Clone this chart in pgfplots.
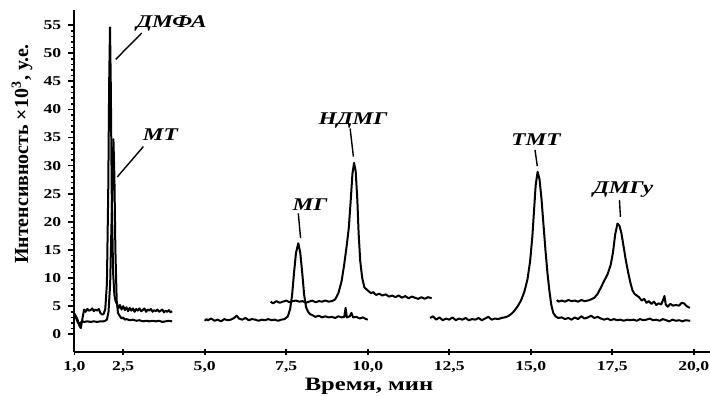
\documentclass[border=0pt]{standalone}
\usepackage{fontspec}
\setmainfont{Liberation Serif}[FakeStretch=1.3]
\newfontfamily\ylabfont{Liberation Serif}
\usepackage{pgfplots}
\pgfplotsset{compat=1.18}
\begin{document}
\begin{tikzpicture}
\begin{axis}[
 name=ax,
 scale only axis,
 width=317.9bp, height=170.9bp,
 xmin=1, xmax=20.5, ymin=-3.1, ymax=57.7,
 axis x line*=bottom, axis y line*=left,
 axis line style={line width=1.1bp, -},
 xtick={1,2.5,5,7.5,10,12.5,15,17.5,20},
 xticklabels={{1,0},{2,5},{5,0},{7,5},{10,0},{12,5},{15,0},{17,5},{20,0}},
 minor x tick num=4,
 ytick={0,5,10,15,20,25,30,35,40,45,50,55},
 minor y tick num=4,
 xtick align=center, ytick align=outside,
 major tick length=3bp, minor tick length=1.8bp,
 tick style={line width=0.8bp, black},
 /pgf/number format/assume math mode=true,
 ticklabel style={font=\fontsize{6.8}{8}\selectfont\bfseries},
 xlabel={Время, мин},
 xlabel style={at={(rel axis cs:0.4636,0)}, yshift=-17.15bp, anchor=center, font=\fontsize{9.5}{11}\selectfont\bfseries},
 ylabel={\ylabfont\bfseries Интенсивность ×10\textsuperscript{3}, у.е.},
 ylabel style={at={(rel axis cs:-0.0823,0.5786)}, anchor=center, font=\fontsize{10}{12}\selectfont},
 cycle list={{black,solid}},
 every axis plot post/.append style={line width=1bp, black, solid, no markers, line join=round},
]
% upper trace, segment 1
\addplot coordinates {(1.00,3.7)(1.05,3.2)(1.10,2.6)(1.15,1.6)(1.20,1.1)(1.25,2.8)(1.30,4.4)(1.35,4.0)(1.40,4.5)(1.45,4.2)(1.50,4.3)(1.55,4.6)(1.60,4.1)(1.65,4.4)(1.70,4.2)(1.75,4.5)(1.80,3.8)(1.85,3.5)(1.90,3.6)(1.95,4.5)(2.00,9)(2.04,25)(2.07,45)(2.095,54.6)(2.12,44)(2.15,24)(2.19,11)(2.23,7)(2.27,5.8)(2.30,5.5)(2.35,4.6)(2.40,5.2)(2.45,4.4)(2.50,5.0)(2.55,4.3)(2.60,4.8)(2.65,4.1)(2.70,4.7)(2.75,4.2)(2.80,4.6)(2.85,4.0)(2.90,4.5)(2.95,4.2)(3.00,4.6)(3.05,4.1)(3.10,4.3)(3.15,4.6)(3.20,4.0)(3.25,4.4)(3.30,4.2)(3.35,4.5)(3.40,4.0)(3.45,4.3)(3.50,4.1)(3.55,4.4)(3.60,4.0)(3.65,4.2)(3.70,4.4)(3.75,3.9)(3.80,4.2)(3.85,4.0)(3.90,4.3)(3.95,3.9)(4.00,4.1)};
% lower trace, segment 1
\addplot coordinates {(1.00,3.4)(1.05,3.0)(1.10,2.2)(1.15,1.8)(1.20,2.1)(1.25,2.3)(1.30,2.2)(1.40,2.3)(1.50,2.2)(1.60,2.3)(1.70,2.2)(1.80,2.3)(1.90,2.3)(1.95,2.4)(2.00,2.6)(2.05,4)(2.10,9)(2.15,22)(2.20,34.7)(2.23,28)(2.26,15)(2.30,6)(2.34,3.8)(2.40,3.2)(2.45,2.8)(2.50,3.0)(2.55,2.6)(2.60,2.7)(2.70,2.5)(2.80,2.6)(2.90,2.4)(3.00,2.5)(3.10,2.3)(3.20,2.4)(3.30,2.3)(3.40,2.4)(3.50,2.3)(3.60,2.4)(3.70,2.2)(3.80,2.3)(3.90,2.4)(4.00,2.3)};
% lower trace, segment 2
\addplot coordinates {(5.00,2.4)(5.05,2.7)(5.10,2.5)(5.20,2.8)(5.30,2.4)(5.40,2.6)(5.50,2.3)(5.60,2.7)(5.70,2.5)(5.80,2.6)(5.90,2.9)(5.98,3.3)(6.05,2.8)(6.15,2.6)(6.25,2.9)(6.35,2.5)(6.45,2.7)(6.55,2.6)(6.65,2.4)(6.75,2.6)(6.85,2.5)(6.95,2.7)(7.05,2.5)(7.15,2.6)(7.25,2.4)(7.35,2.6)(7.45,2.7)(7.55,3.2)(7.62,4.5)(7.68,7)(7.74,11)(7.80,14.5)(7.87,16.2)(7.93,14.5)(7.99,11)(8.05,7)(8.11,4.8)(8.17,4.0)(8.23,3.6)(8.30,3.4)(8.40,3.1)(8.50,3.3)(8.60,3.0)(8.70,3.2)(8.80,3.0)(8.90,3.1)(9.00,2.9)(9.10,3.2)(9.20,3.0)(9.28,3.1)(9.32,4.7)(9.36,3.0)(9.45,3.2)(9.50,3.8)(9.55,3.0)(9.65,3.1)(9.75,2.8)(9.85,3.0)(9.95,2.7)(10.00,2.6)};
% upper trace, segment 2
\addplot coordinates {(7.02,5.8)(7.10,5.5)(7.20,5.9)(7.30,5.6)(7.40,5.8)(7.50,6.0)(7.60,5.7)(7.70,5.9)(7.80,6.0)(7.90,5.8)(8.00,5.9)(8.10,5.6)(8.20,5.8)(8.30,6.0)(8.40,5.7)(8.50,5.9)(8.60,5.8)(8.70,6.0)(8.80,5.8)(8.90,5.9)(9.00,6.2)(9.10,7.3)(9.20,9.5)(9.28,12.5)(9.36,16)(9.42,19)(9.48,24)(9.53,28.5)(9.58,30.5)(9.63,29)(9.68,24)(9.72,18)(9.77,13)(9.83,10)(9.90,8.3)(10.00,7.8)(10.10,7.3)(10.17,7.5)(10.25,7.0)(10.35,7.2)(10.45,6.9)(10.55,7.1)(10.65,6.7)(10.75,6.9)(10.85,6.6)(10.95,6.9)(11.05,6.5)(11.15,6.8)(11.25,6.4)(11.35,6.7)(11.45,6.5)(11.55,6.3)(11.65,6.6)(11.75,6.3)(11.85,6.6)(11.96,6.4)};
% lower trace, segment 3
\addplot coordinates {(11.91,2.9)(12.00,3.2)(12.10,2.6)(12.20,3.0)(12.30,2.5)(12.40,2.8)(12.50,2.6)(12.60,3.0)(12.70,2.5)(12.80,2.8)(12.90,2.6)(13.00,2.9)(13.10,2.5)(13.20,2.7)(13.30,2.6)(13.40,2.9)(13.50,2.5)(13.60,2.8)(13.70,3.1)(13.80,2.6)(13.90,2.8)(14.00,2.7)(14.10,2.9)(14.20,3.0)(14.30,3.2)(14.40,3.6)(14.50,4.2)(14.60,5.0)(14.70,6.0)(14.80,7.5)(14.90,9.8)(14.98,13)(15.05,17.5)(15.10,22)(15.15,26.5)(15.21,28.9)(15.27,27.5)(15.33,24)(15.39,19.5)(15.45,15)(15.51,11)(15.57,7.8)(15.63,5.2)(15.69,3.8)(15.76,3.2)(15.84,2.9)(15.95,3.0)(16.05,2.7)(16.15,2.9)(16.25,2.6)(16.35,3.0)(16.45,2.7)(16.55,3.2)(16.65,2.8)(16.75,3.0)(16.85,3.3)(16.95,2.9)(17.05,3.1)(17.15,2.8)(17.25,2.6)(17.35,2.8)(17.45,2.5)(17.55,2.7)(17.65,2.5)(17.75,2.6)(17.85,2.4)(17.95,2.6)(18.05,2.5)(18.15,2.6)(18.25,2.4)(18.35,2.7)(18.45,2.5)(18.55,2.6)(18.65,2.8)(18.75,2.5)(18.85,2.6)(18.95,2.4)(19.05,2.7)(19.15,2.5)(19.25,2.3)(19.35,2.6)(19.45,2.4)(19.55,2.5)(19.65,2.3)(19.75,2.5)(19.89,2.4)};
% upper trace, segment 3
\addplot coordinates {(15.80,6.1)(15.85,5.8)(15.95,6.0)(16.05,5.8)(16.15,6.1)(16.25,5.9)(16.35,6.0)(16.45,5.8)(16.55,6.1)(16.65,5.9)(16.75,6.0)(16.85,6.2)(16.95,6.5)(17.05,7.2)(17.15,8.3)(17.25,9.5)(17.35,10.6)(17.45,12.3)(17.52,14.5)(17.59,17.8)(17.66,19.7)(17.72,19.3)(17.78,18)(17.85,15.5)(17.92,13)(17.98,11.2)(18.05,9.3)(18.12,7.8)(18.18,7.2)(18.25,6.9)(18.32,6.6)(18.40,6.0)(18.48,6.3)(18.55,5.6)(18.62,5.9)(18.70,5.4)(18.78,5.8)(18.85,5.2)(18.92,5.5)(19.00,5.3)(19.05,6.0)(19.10,6.8)(19.14,5.3)(19.20,4.9)(19.28,5.4)(19.36,5.1)(19.45,5.2)(19.55,5.1)(19.63,5.6)(19.70,5.5)(19.78,5.0)(19.88,4.7)};
% annotations
\begin{scope}[every node/.style={font=\fontsize{9}{10}\selectfont\bfseries\itshape, inner sep=0pt}]
\node at (axis cs:3.98,55.2) {ДМФА};
\node at (axis cs:3.64,35.5) {МТ};
\node at (axis cs:8.23,23.0) {МГ};
\node at (axis cs:9.55,38.0) {НДМГ};
\node at (axis cs:15.16,34.6) {ТМТ};
\node at (axis cs:17.83,25.7) {ДМГу};
\end{scope}
\draw[line width=0.7bp] (axis cs:2.27,48.9) -- (axis cs:3.07,53.6);
\draw[line width=0.7bp] (axis cs:2.32,28.0) -- (axis cs:3.12,33.4);
\draw[line width=0.7bp] (axis cs:7.87,21.5) -- (axis cs:7.94,17.1);
\draw[line width=0.7bp] (axis cs:9.46,36.6) -- (axis cs:9.56,31.6);
\draw[line width=0.7bp] (axis cs:15.13,32.8) -- (axis cs:15.20,29.9);
\draw[line width=0.7bp] (axis cs:17.72,23.9) -- (axis cs:17.75,20.9);
\end{axis}
\pgfresetboundingbox
\path[use as bounding box] (ax.south west) ++(-37.15bp,-22.15bp) rectangle ++(355bp,198bp);
\end{tikzpicture}
\end{document}
